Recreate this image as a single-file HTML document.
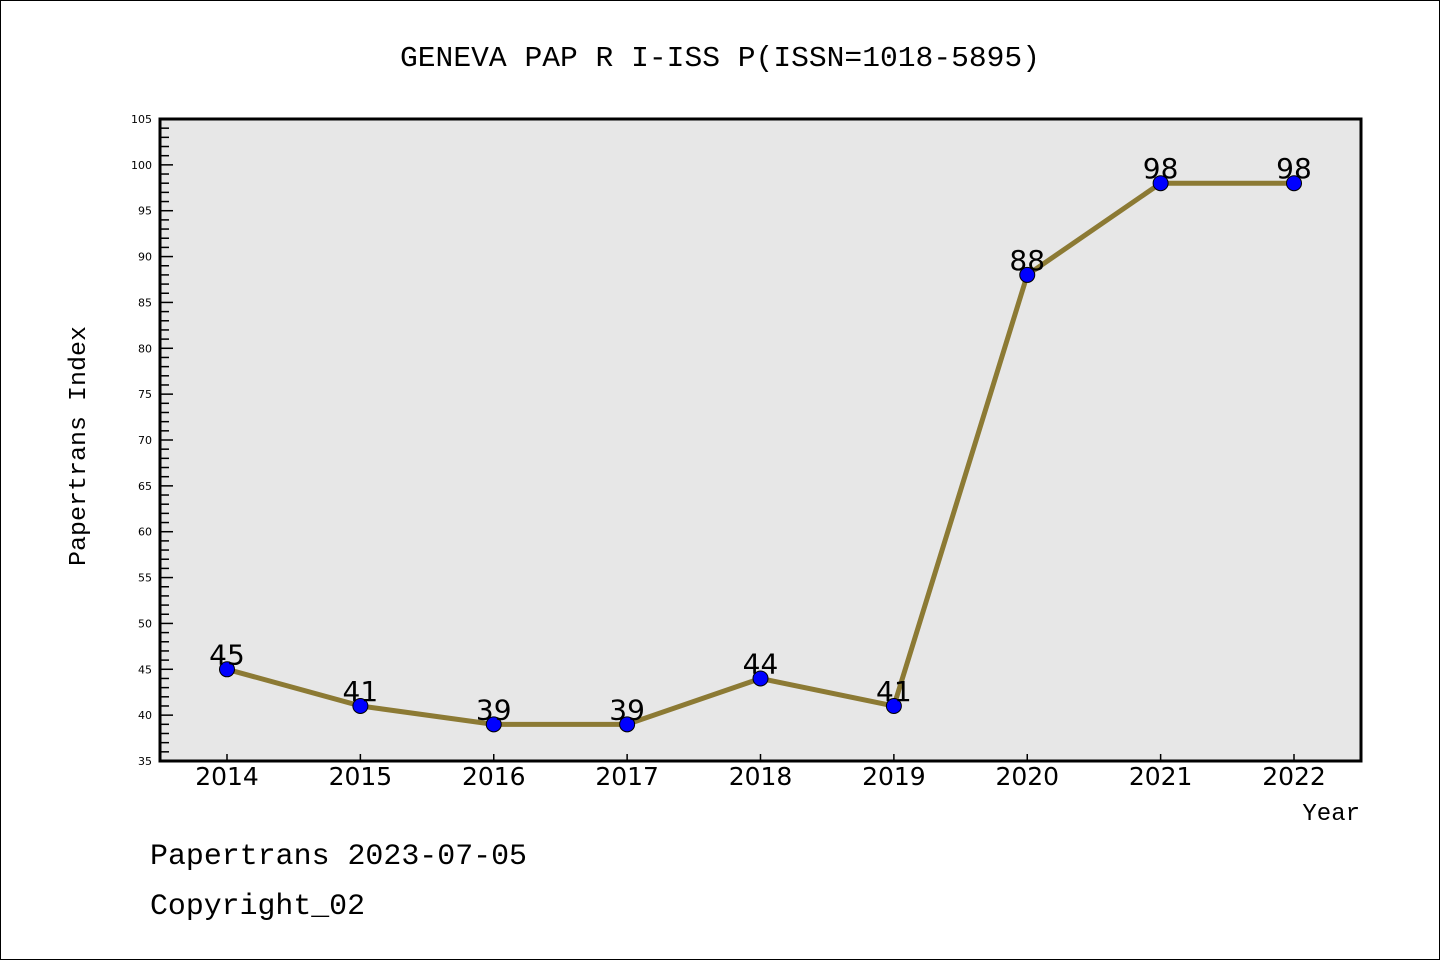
<!DOCTYPE html>
<html><head><meta charset="utf-8"><style>
body{margin:0;background:#fff}
svg{display:block;font-family:"Liberation Mono","DejaVu Sans Mono",monospace}
</style></head><body>
<svg id="chart" width="1440" height="960">
<rect x="0.5" y="0.5" width="1439" height="959" fill="#fff" stroke="#000"/>
<text x="720" y="66" font-size="29" text-anchor="middle" textLength="640" lengthAdjust="spacingAndGlyphs">GENEVA PAP R I-ISS P(ISSN=1018-5895)</text>
<rect x="160" y="119" width="1201" height="642" fill="#e7e7e7"/>
<g id="yticks"></g><g id="xticks"></g><g id="series"></g>
<rect x="160" y="119" width="1201" height="642" fill="none" stroke="#000" stroke-width="3"/>
<text x="85" y="446" font-size="24" text-anchor="middle" textLength="240" lengthAdjust="spacingAndGlyphs" transform="rotate(-90 85 446)">Papertrans Index</text>
<text x="1360" y="820" font-size="24" text-anchor="end">Year</text>
<text x="150" y="864" font-size="30" textLength="377" lengthAdjust="spacingAndGlyphs">Papertrans 2023-07-05</text>
<text x="150" y="914" font-size="30" textLength="215" lengthAdjust="spacingAndGlyphs">Copyright_02</text>
</svg>
<script>
const years=[2014,2015,2016,2017,2018,2019,2020,2021,2022];
const values=[45,41,39,39,44,41,88,98,98];
const yTickLabels=[35,40,45,50,55,60,65,70,75,80,85,90,95,100,105];
const NS="http://www.w3.org/2000/svg";
const x0=227,x1=1294,yb=761,yt=119,vmin=35,vmax=105;
const xs=i=>x0+(x1-x0)*i/(years.length-1);
const ys=v=>yb-(v-vmin)/(vmax-vmin)*(yb-yt);
function mk(t,a,p){const e=document.createElementNS(NS,t);for(const k in a)e.setAttribute(k,a[k]);p.appendChild(e);return e;}
const yg=document.getElementById('yticks');
for(let v=vmin;v<=vmax;v++){const y=ys(v);const major=v%5===0;
const t=mk('line',{x1:160,x2:major?173:169,y1:y,y2:y,stroke:'#000','stroke-width':1.5},yg);

}
yTickLabels.forEach(v=>{const t=mk('text',{x:152,y:ys(v)+4,'font-size':11,'text-anchor':'end','font-family':'DejaVu Sans, sans-serif'},yg);t.textContent=v;

});
const xg=document.getElementById('xticks');
years.forEach((yr,i)=>{const l=mk('line',{x1:xs(i),x2:xs(i),y1:761,y2:754,stroke:'#000','stroke-width':1.5},xg);


const t=mk('text',{x:xs(i),y:785,'font-size':25,'text-anchor':'middle','font-family':'DejaVu Sans, sans-serif'},xg);t.textContent=yr;

});
const sg=document.getElementById('series');
const pl=mk('polyline',{points:values.map((v,i)=>xs(i)+','+ys(v)).join(' '),fill:'none',stroke:'#8c7a34','stroke-width':5},sg);


values.forEach((v,i)=>{const c=mk('circle',{cx:xs(i),cy:ys(v),r:7.5,fill:'#0000ff',stroke:'#000','stroke-width':1},sg);


const t=mk('text',{x:xs(i),y:ys(v)-5,'font-size':28,'text-anchor':'middle','font-family':'DejaVu Sans, sans-serif'},sg);t.textContent=v;

});
</script>
</body></html>
